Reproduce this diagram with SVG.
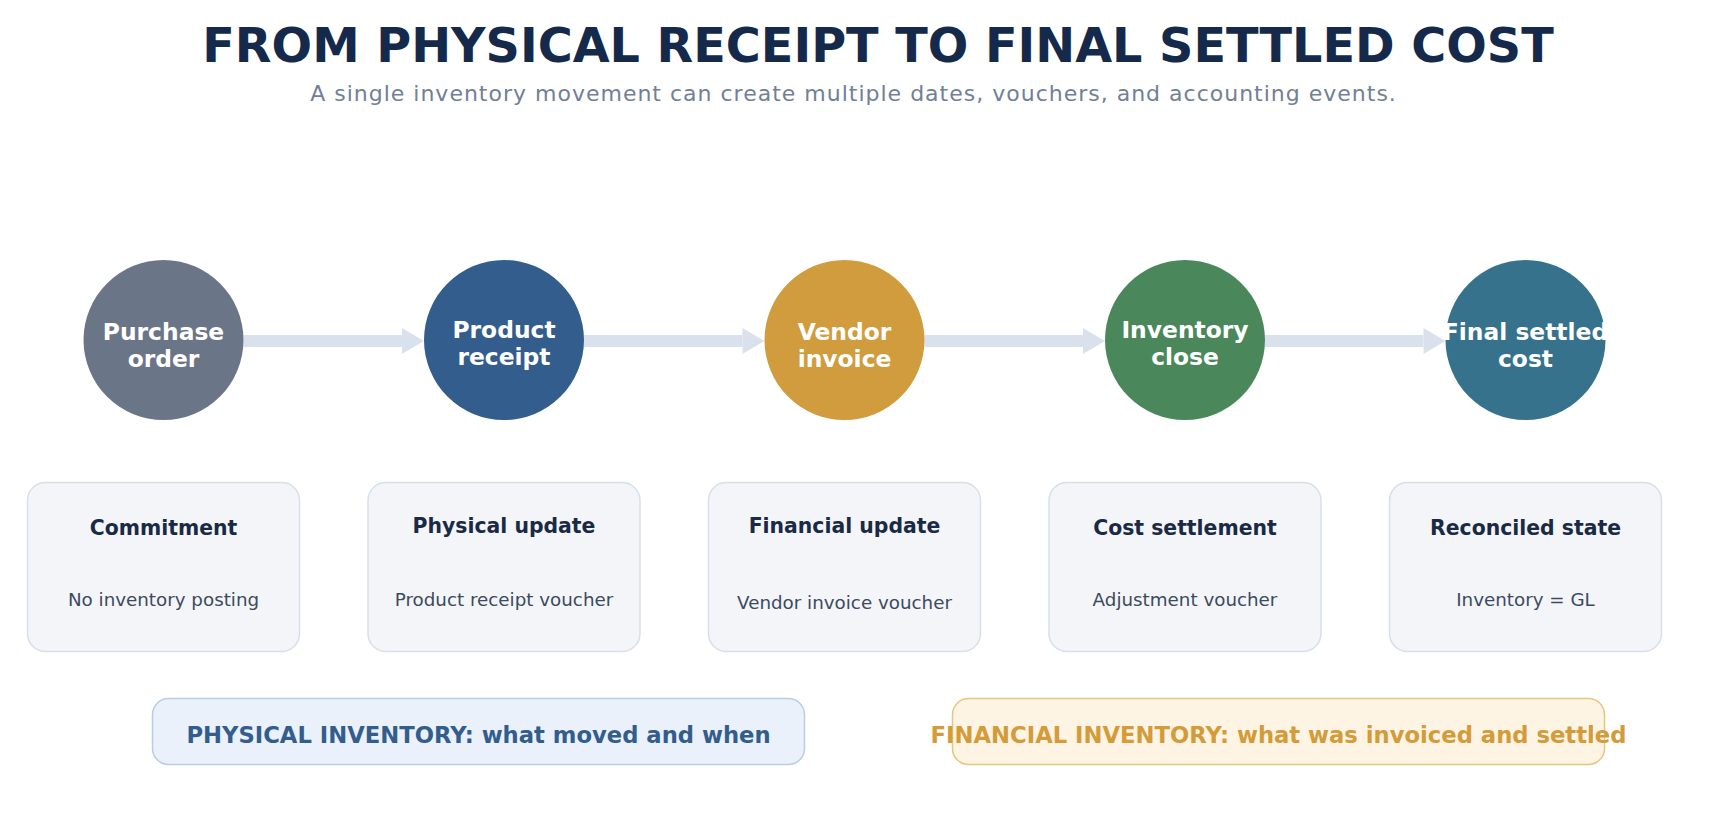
<svg xmlns="http://www.w3.org/2000/svg" width="1714" height="831" viewBox="0 0 1714 831">
<defs>
<style>
.title{font-family:"DejaVu Sans","Liberation Sans",sans-serif;font-weight:bold;font-size:47.7px;fill:#15294a;text-anchor:middle}
.sub{font-family:"DejaVu Sans","Liberation Sans",sans-serif;font-size:22px;letter-spacing:1px;fill:#718096;text-anchor:middle}
.ctext{font-family:"DejaVu Sans","Liberation Sans",sans-serif;font-weight:bold;font-size:23.4px;fill:#ffffff;text-anchor:middle}
.card{fill:#f3f5f9;stroke:#d6dfea;stroke-width:1.5}
.ct{font-family:"DejaVu Sans","Liberation Sans",sans-serif;font-weight:bold;font-size:20.4px;fill:#1a2a44;text-anchor:middle}
.cs{font-family:"DejaVu Sans","Liberation Sans",sans-serif;font-size:18.3px;fill:#3c4a5e;text-anchor:middle}
.conn{stroke:#d9e2ec;stroke-width:12;fill:none}
.head{fill:#d9e2ec}
.band{font-family:"DejaVu Sans","Liberation Sans",sans-serif;font-weight:bold;font-size:22.7px;text-anchor:middle}
</style>
</defs>
<rect width="1714" height="831" fill="#ffffff"/>
<text class="title" x="878" y="62">FROM PHYSICAL RECEIPT TO FINAL SETTLED COST</text>
<text class="sub" x="853.5" y="101">A single inventory movement can create multiple dates, vouchers, and accounting events.</text>

<g id="connectors">
<line class="conn" x1="243.5" y1="341" x2="402" y2="341"/>
<polygon class="head" points="402,328 424,341 402,354"/>
<line class="conn" x1="584" y1="341" x2="742.5" y2="341"/>
<polygon class="head" points="742.5,328 764.5,341 742.5,354"/>
<line class="conn" x1="924.5" y1="341" x2="1083" y2="341"/>
<polygon class="head" points="1083,328 1105,341 1083,354"/>
<line class="conn" x1="1265" y1="341" x2="1423.5" y2="341"/>
<polygon class="head" points="1423.5,328 1445.5,341 1423.5,354"/>
</g>

<g id="node-purchase-order">
<circle cx="163.5" cy="340" r="80" fill="#6b7588"/>
<text class="ctext" x="163.5" y="340">Purchase</text>
<text class="ctext" x="163.5" y="367">order</text>
</g>
<g id="node-product-receipt">
<circle cx="504" cy="340" r="80" fill="#335d8c"/>
<text class="ctext" x="504" y="338">Product</text>
<text class="ctext" x="504" y="365">receipt</text>
</g>
<g id="node-vendor-invoice">
<circle cx="844.5" cy="340" r="80" fill="#d09c3d"/>
<text class="ctext" x="844.5" y="340">Vendor</text>
<text class="ctext" x="844.5" y="367">invoice</text>
</g>
<g id="node-inventory-close">
<circle cx="1185" cy="340" r="80" fill="#4a885c"/>
<text class="ctext" x="1185" y="338">Inventory</text>
<text class="ctext" x="1185" y="365">close</text>
</g>
<g id="node-final-settled-cost">
<circle cx="1525.5" cy="340" r="80" fill="#36728c"/>
<text class="ctext" x="1525.5" y="340">Final settled</text>
<text class="ctext" x="1525.5" y="367">cost</text>
</g>

<g id="card-commitment">
<rect class="card" x="27.5" y="482.5" width="272" height="169" rx="18"/>
<text class="ct" x="163.5" y="535">Commitment</text>
<text class="cs" x="163.5" y="606">No inventory posting</text>
</g>
<g id="card-physical-update">
<rect class="card" x="368" y="482.5" width="272" height="169" rx="18"/>
<text class="ct" x="504" y="532.5">Physical update</text>
<text class="cs" x="504" y="606">Product receipt voucher</text>
</g>
<g id="card-financial-update">
<rect class="card" x="708.5" y="482.5" width="272" height="169" rx="18"/>
<text class="ct" x="844.5" y="532.5">Financial update</text>
<text class="cs" x="844.5" y="608.5">Vendor invoice voucher</text>
</g>
<g id="card-cost-settlement">
<rect class="card" x="1049" y="482.5" width="272" height="169" rx="18"/>
<text class="ct" x="1185" y="535">Cost settlement</text>
<text class="cs" x="1185" y="606">Adjustment voucher</text>
</g>
<g id="card-reconciled-state">
<rect class="card" x="1389.5" y="482.5" width="272" height="169" rx="18"/>
<text class="ct" x="1525.5" y="535">Reconciled state</text>
<text class="cs" x="1525.5" y="606">Inventory = GL</text>
</g>

<g id="band-physical">
<rect x="152.5" y="698.5" width="652" height="66" rx="16" fill="#eaf1fa" stroke="#b9cde3" stroke-width="1.5"/>
<text class="band" x="478.5" y="743" fill="#335d8c">PHYSICAL INVENTORY: what moved and when</text>
</g>
<g id="band-financial">
<rect x="952.5" y="698.5" width="652" height="66" rx="16" fill="#fdf4e3" stroke="#e6c57e" stroke-width="1.5"/>
<text class="band" x="1278.5" y="743" fill="#d39b39">FINANCIAL INVENTORY: what was invoiced and settled</text>
</g>
</svg>
